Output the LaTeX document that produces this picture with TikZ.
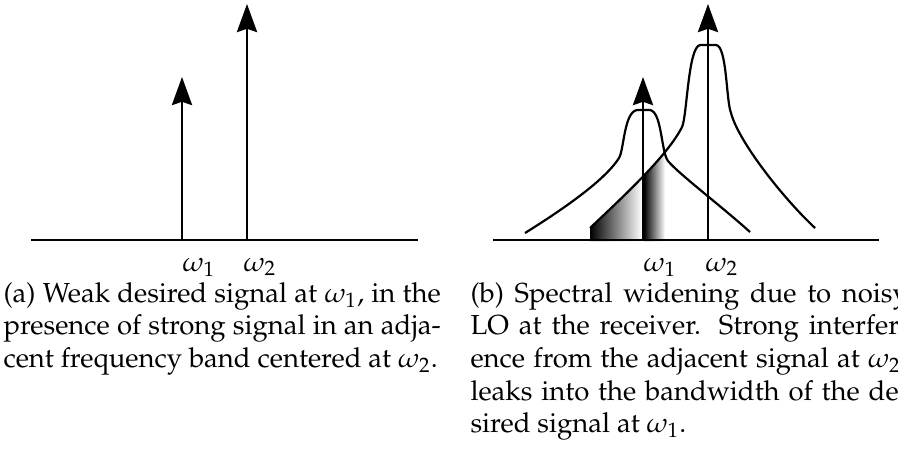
\documentclass[tikz,border=0pt]{standalone}
\usepackage[T1]{fontenc}
\usepackage{mathpazo}
\usetikzlibrary{arrows.meta}
\begin{document}
\begin{tikzpicture}[x=0.3636pt,y=-0.3636pt,
  axisline/.style={line width=0.95pt},
  stem/.style={line width=1pt,-{Stealth[length=10.2pt,width=7.3pt,inset=1.2pt]}},
  spec/.style={line width=0.8pt},
  freqlbl/.style={anchor=base west,inner sep=0pt},
  capline/.style={anchor=base west,inner sep=0pt}]
\useasboundingbox (0,0) rectangle (898,449);
\clip (0,0) rectangle (898,449);
% ---------- panel (a)
\coordinate (aL) at (31,240);
\coordinate (aR) at (418,240);
\coordinate (ab1) at (182,240);
\coordinate (at1) at (182,77);
\coordinate (ab2) at (247,240);
\coordinate (at2) at (247,4);
\draw[axisline] (aL) -- (aR);
\draw[stem] (ab1) -- (at1);
\draw[stem] (ab2) -- (at2);
\node[freqlbl] (wa1) at (182,271) {$\omega_1$};
\node[freqlbl] (wa2) at (243,271) {$\omega_2$};
% ---------- panel (b)
\coordinate (bL) at (493,240);
\coordinate (bR) at (879,240);
\coordinate (bb1) at (643,240);
\coordinate (bt1) at (643,77);
\coordinate (bb2) at (708,240);
\coordinate (bt2) at (708,4);
\begin{scope}
  \clip (590,241) -- (590,228) .. controls (625,195) and (668,155) .. (682,127) -- (682,241) -- cycle;
  \shade[left color=black,right color=white] (590,100) rectangle (642,241);
  \shade[left color=black,right color=white] (644,100) rectangle (665,241);
\end{scope}
% weak signal spectrum
\draw[spec] (525,233) .. controls (565,208) and (605,180) .. (619,158)
  .. controls (624,150) and (624,112) .. (637,110) -- (650,110)
  .. controls (662,112) and (661,152) .. (668,161)
  .. controls (680,175) and (720,205) .. (750,232);
% strong signal spectrum
\draw[spec] (590,228) .. controls (625,195) and (668,155) .. (682,127)
  .. controls (687,117) and (688,47) .. (700,45) -- (716,45)
  .. controls (727,46) and (726,100) .. (731,113)
  .. controls (738,140) and (780,195) .. (815,228);
\draw[axisline] (bL) -- (bR);
\draw[stem] (bb1) -- (bt1);
\draw[stem] (bb2) -- (bt2);
\node[freqlbl] (wb1) at (643,271) {$\omega_1$};
\node[freqlbl] (wb2) at (705,271) {$\omega_2$};
% ---------- captions
\node[capline] (ca1) at (3,302) {\makebox[159pt][s]{(a) Weak desired signal at $\omega_1$, in the}};
\node[capline] (ca2) at (3,334.7) {\makebox[159pt][s]{presence of strong signal in an adja-}};
\node[capline] (ca3) at (3,367.4) {cent frequency band centered at $\omega_2$.};
\node[capline] (cb1) at (470,302) {\makebox[159pt][s]{(b) Spectral widening due to noisy}};
\node[capline] (cb2) at (470,334.7) {\makebox[159pt][s]{LO at the receiver. Strong interfer-}};
\node[capline] (cb3) at (470,367.4) {\makebox[159pt][s]{ence from the adjacent signal at $\omega_2$,}};
\node[capline] (cb4) at (470,400.1) {\makebox[159pt][s]{leaks into the bandwidth of the de-}};
\node[capline] (cb5) at (470,432.8) {sired signal at $\omega_1$.};
\end{tikzpicture}
\end{document}
